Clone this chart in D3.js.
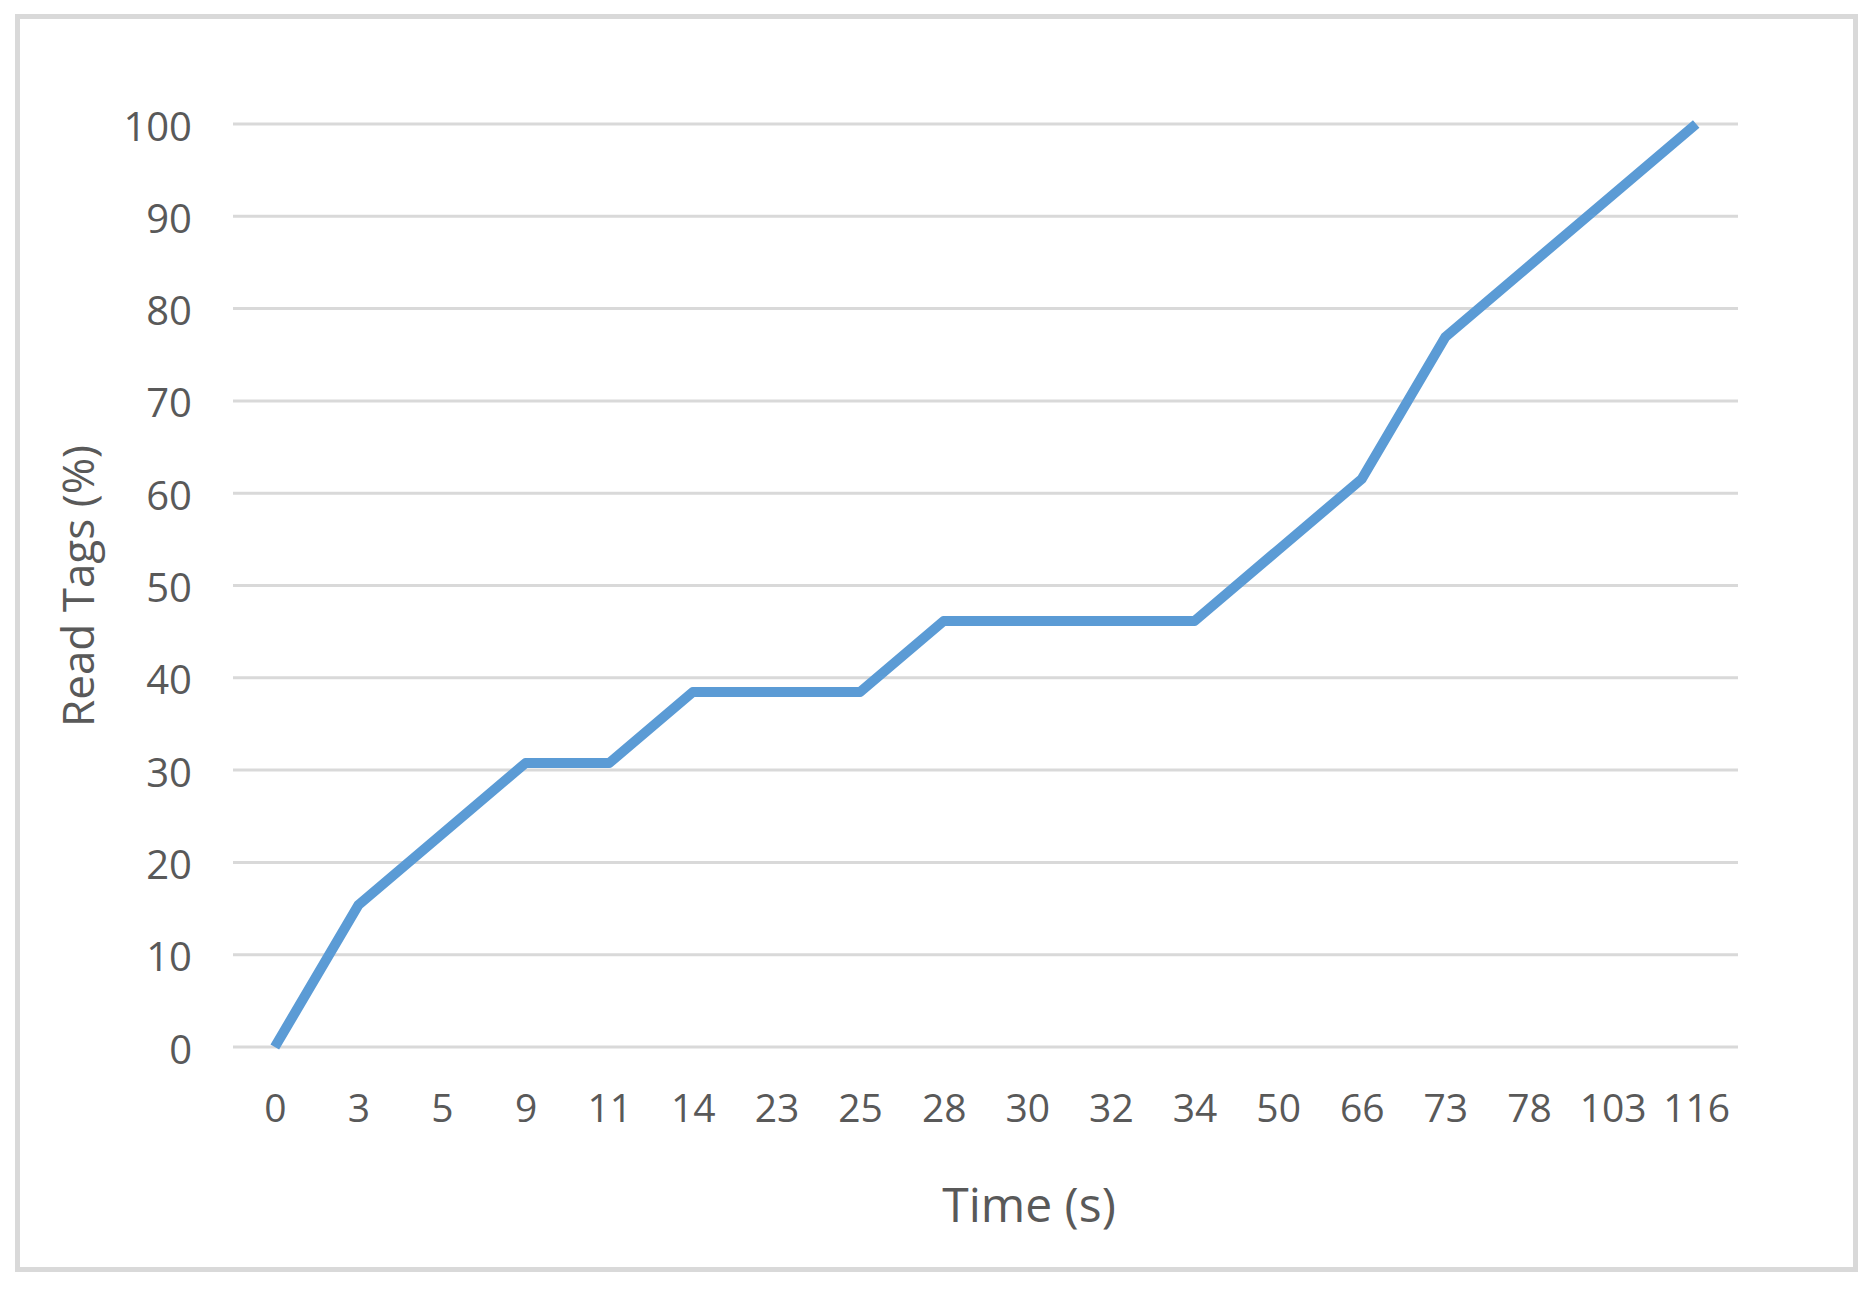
<!DOCTYPE html>
<html>
<head>
<meta charset="utf-8">
<script src="https://cdn.jsdelivr.net/npm/d3@7"></script>
<style>
  html, body { margin: 0; padding: 0; background: #fff; }
  svg { display: block; }
  text { font-family: "Open Sans", sans-serif; fill: #595959; }
</style>
</head>
<body>
<svg id="chart" width="1875" height="1290"></svg>
<script>
// Data
const categories = ["0","3","5","9","11","14","23","25","28","30","32","34","50","66","73","78","103","116"];
const readTags = [0, 15.38, 23.08, 30.77, 30.77, 38.46, 38.46, 38.46, 46.15, 46.15, 46.15, 46.15, 53.85, 61.54, 76.92, 84.62, 92.31, 100];
const yTicks = [0, 10, 20, 30, 40, 50, 60, 70, 80, 90, 100];
const xTitle = "Time (s)";
const yTitle = "Read Tags (%)";

const svg = d3.select("#chart");
const W = 1875, H = 1290;
const plot = { left: 233, right: 1738, top: 124, bottom: 1047 };

svg.append("rect").attr("width", W).attr("height", H).attr("fill", "#fff");
svg.append("rect")
  .attr("x", 17.5).attr("y", 16.5).attr("width", 1838).attr("height", 1253)
  .attr("fill", "none").attr("stroke", "#d9d9d9").attr("stroke-width", 5);

const x = d3.scalePoint().domain(categories).range([plot.left, plot.right]).padding(0.5);
const y = d3.scaleLinear().domain([0, 100]).range([plot.bottom, plot.top]);

// Gridlines
svg.append("g").selectAll("line").data(yTicks).join("line")
  .attr("x1", plot.left).attr("x2", plot.right)
  .attr("y1", d => y(d)).attr("y2", d => y(d))
  .attr("stroke", "#d9d9d9").attr("stroke-width", 3);

// Y axis labels
const yAxis = d3.axisLeft(y).tickValues(yTicks).tickSize(0).tickPadding(0);
const gy = svg.append("g").attr("transform", `translate(192,0)`).call(yAxis);
gy.select(".domain").remove();
gy.selectAll("text").attr("font-size", 40).attr("fill", "#595959")
  .attr("font-family", "Open Sans, sans-serif").attr("dy", "0.4em");

// X axis labels
const xAxis = d3.axisBottom(x).tickSize(0).tickPadding(0);
const gx = svg.append("g").attr("transform", `translate(0,1108)`).call(xAxis);
gx.select(".domain").remove();
gx.selectAll("text").attr("font-size", 39).attr("fill", "#595959")
  .attr("font-family", "Open Sans, sans-serif").attr("dy", "0.36em");

// Line
const line = d3.line().x((d, i) => x(categories[i])).y(d => y(d));
svg.append("path").datum(readTags)
  .attr("d", line).attr("fill", "none")
  .attr("stroke", "#5b9bd5").attr("stroke-width", 10)
  .attr("stroke-linejoin", "round").attr("stroke-linecap", "butt");

// Titles
svg.append("text").attr("x", 1029).attr("y", 1222)
  .attr("text-anchor", "middle").attr("font-size", 48).text(xTitle);
svg.append("text").attr("transform", "translate(94,586) rotate(-90)")
  .attr("text-anchor", "middle").attr("font-size", 44).text(yTitle);
</script>
</body>
</html>
